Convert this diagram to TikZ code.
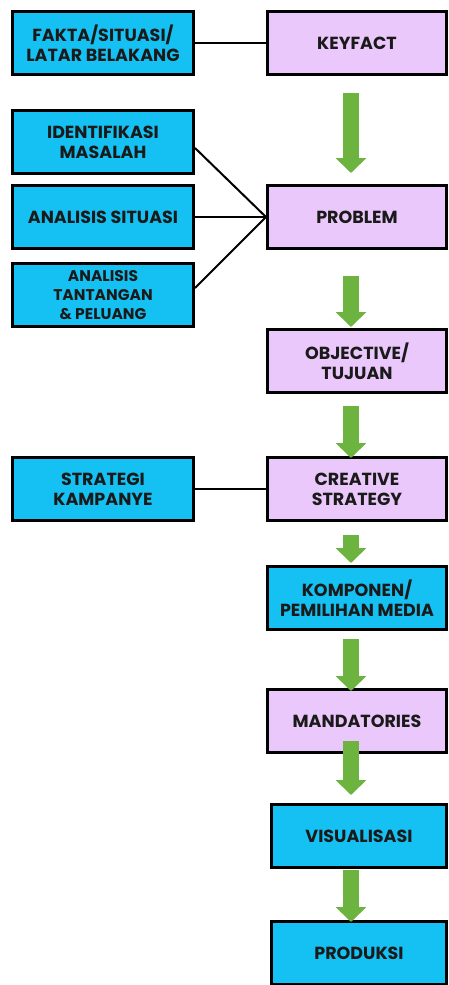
\documentclass[tikz,border=0pt]{standalone}
\usepackage{fontspec}
\setmainfont{Poppins}
\usetikzlibrary{arrows.meta,positioning}

\definecolor{factblue}{HTML}{15C1F2}
\definecolor{steppink}{HTML}{EBC8FB}
\definecolor{flowgreen}{HTML}{6CB33F}
\definecolor{inkblack}{HTML}{1A1A1A}

\begin{document}
\begin{tikzpicture}[x=1pt, y=1pt,
    box/.style={draw=black, line width=3pt, minimum height=63pt, align=center, inner sep=1pt,
      text=inkblack, font=\bfseries\fontsize{17.5}{20}\selectfont},
    bluebox/.style={box, fill=factblue, minimum width=181pt},
    pinkbox/.style={box, fill=steppink, minimum width=179pt},
    link/.style={draw=black, line width=2pt},
    flow/.style={draw=flowgreen, line width=16pt, -{Triangle[width=30pt,length=15pt]}}]
    \useasboundingbox (0,0) rectangle (448,-985);
    \coordinate (axis) at (351,0);

    % Right column
    \node (keyfact) [pinkbox] at (357,-43) {KEYFACT};
    \node (problem) [pinkbox, below=108pt of keyfact] {PROBLEM};
    \node (objective) [pinkbox, below=78pt of problem] {OBJECTIVE/\\TUJUAN};
    \node (creative) [pinkbox, below=62pt of objective] {CREATIVE\\STRATEGY};
    \node (komponen) [bluebox, minimum width=179pt, below=43pt of creative] {KOMPONEN/\\PEMILIHAN MEDIA};
    \node (mandatories) [pinkbox, below=57pt of komponen] {MANDATORIES};
    \node (visual) [bluebox, minimum width=175pt, below=49pt of mandatories.south east, anchor=north east] {VISUALISASI};
    \node (produksi) [bluebox, minimum width=175pt, below=51pt of visual] {PRODUKSI};

    % Left column
    \node (fakta) [bluebox, left=71pt of keyfact] {FAKTA/SITUASI/\\LATAR BELAKANG};
    \node (situasi) [bluebox, left=71pt of problem] {ANALISIS SITUASI};
    \node (identifikasi) [bluebox, above=9pt of situasi] {IDENTIFIKASI\\MASALAH};
    \node (tantangan) [bluebox, below=12pt of situasi, font=\bfseries\fontsize{15.5}{19}\selectfont] {ANALISIS\\TANTANGAN\\\& PELUANG};
    \node (strategi) [bluebox, left=71pt of creative] {STRATEGI\\KAMPANYE};

    % Links
    \draw[link] (fakta) -- (keyfact);
    \draw[link] ([yshift=-6pt]identifikasi.east) -- (problem.west);
    \draw[link] (situasi) -- (problem);
    \draw[link] ([yshift=7pt]tantangan.east) -- (problem.west);
    \draw[link] (strategi) -- (creative);

    % Flow arrows
    \draw[flow, shorten <=17pt, shorten >=11pt] (keyfact.south -| axis) -- (problem.north -| axis);
    \draw[flow, shorten <=26pt, shorten >=1pt] (problem.south -| axis) -- (objective.north -| axis);
    \draw[flow, shorten <=12pt, shorten >=-2pt] (objective.south -| axis) -- (creative.north -| axis);
    \draw[flow, shorten <=13pt, shorten >=2pt] (creative.south -| axis) -- (komponen.north -| axis);
    \draw[flow, shorten <=8pt, shorten >=-3pt] (komponen.south -| axis) -- (mandatories.north -| axis);
    \draw[flow, shorten <=-13pt, shorten >=8pt] (mandatories.south -| axis) -- (visual.north -| axis);
    \draw[flow, shorten <=1pt, shorten >=-2pt] (visual.south -| axis) -- (produksi.north -| axis);
\end{tikzpicture}
\end{document}
